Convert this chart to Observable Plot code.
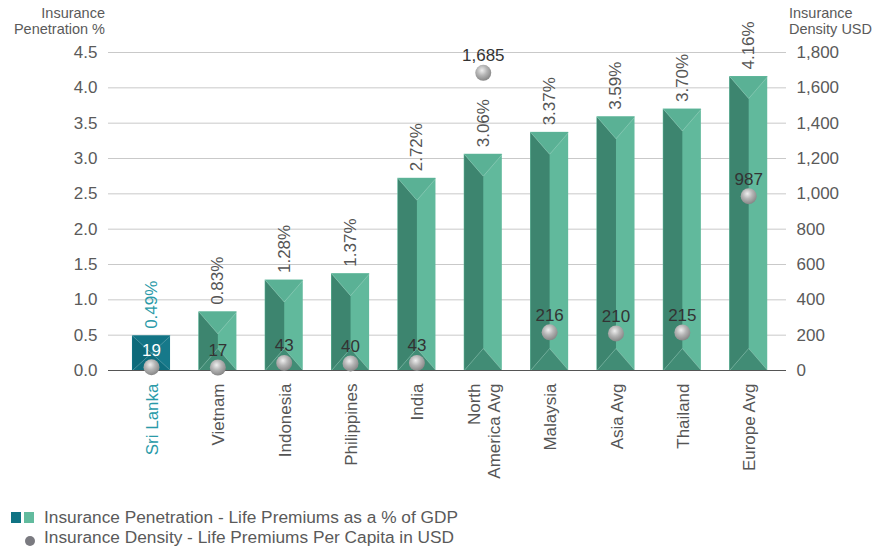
<!DOCTYPE html>
<html><head><meta charset="utf-8">
<script src="https://cdn.jsdelivr.net/npm/d3@7"></script>
<script src="https://cdn.jsdelivr.net/npm/@observablehq/plot@0.6"></script>
<style>
body{margin:0;background:#fff;font-family:"Liberation Sans",Arial,sans-serif;color:#555;}
#wrap{position:relative;width:883px;height:548px;overflow:hidden;}
.ttl{position:absolute;font-size:14.5px;line-height:16px;color:#5a5a5a;white-space:nowrap;}
.leg{position:absolute;left:0;font-size:17.3px;line-height:19px;color:#5a5a5a;white-space:nowrap;}
.sw{position:absolute;width:10px;height:11px;}
</style></head><body>
<svg width="0" height="0" style="position:absolute"><defs>
<radialGradient id="ball" cx="0.42" cy="0.35" r="0.7">
<stop offset="0" stop-color="#efefef"/><stop offset="0.45" stop-color="#b5b5b5"/><stop offset="1" stop-color="#808080"/>
</radialGradient></defs></svg>
<div id="wrap">
  <div class="ttl" style="left:0;top:5px;width:105px;text-align:right;">Insurance</div>
  <div class="ttl" style="left:0;top:21px;width:105px;text-align:right;">Penetration %</div>
  <div class="ttl" style="left:789px;top:5px;">Insurance</div>
  <div class="ttl" style="left:789px;top:21px;">Density USD</div>
  <div id="chart" style="position:absolute;left:0;top:0;"></div>
  <div class="sw" style="left:11px;top:512px;background:#0f7383;"></div>
  <div class="sw" style="left:24px;top:512px;background:#62bb9e;"></div>
  <div class="leg" style="left:44px;top:508px;">Insurance Penetration - Life Premiums as a % of GDP</div>
  <div style="position:absolute;left:25px;top:536px;width:10px;height:10px;border-radius:50%;background:#7a7a80;"></div>
  <div class="leg" style="left:44px;top:528px;">Insurance Density - Life Premiums Per Capita in USD</div>
</div>
<script>
const countries = ["Sri Lanka","Vietnam","Indonesia","Philippines","India","North\nAmerica Avg","Malaysia","Asia Avg","Thailand","Europe Avg"];
const penetration = [0.49,0.83,1.28,1.37,2.72,3.06,3.37,3.59,3.70,4.16];
const density = [19,17,43,40,43,1685,216,210,215,987];
const leftTicks = [0,0.5,1.0,1.5,2.0,2.5,3.0,3.5,4.0,4.5];
const rightTicks = [0,200,400,600,800,1000,1200,1400,1600,1800];
const highlight = "Sri Lanka";

const ratio = 1800/4.5;             // right axis units per left axis unit
const hw = 0.287;                  // half bar width (band units)
const bevelPx = 22;
const pxPerUnit = 318/4.5;
const bev = bevelPx/pxPerUnit;

const SL = {left:"#0d6a7a", right:"#16798a", top:"#127485", bottom:"#0f6e7e", label:"#2a9aa8"};
const GR = {left:"#3d856f", right:"#61b99c", top:"#5ab195", bottom:"#418c75", label:"#555"};

const bars = countries.map((c,i)=>({i, name:c, v:penetration[i], d:density[i], hl:c===highlight}));
const polys = [];
const lines = [];
bars.forEach(b=>{
  const x0=b.i-hw, x1=b.i+hw, xc=b.i, v=b.v, e=Math.min(bev, v/2);
  const C = b.hl ? SL : GR;
  polys.push({id:b.i+"L", fill:C.left, pts:[[x0,v],[xc,v-e],[xc,e],[x0,0]]});
  polys.push({id:b.i+"T", fill:C.top, pts:[[x0,v],[x1,v],[xc,v-e]]});
  polys.push({id:b.i+"B", fill:C.bottom, pts:[[x0,0],[x1,0],[xc,e]]});
  lines.push({id:b.i+"t", pts:[[x0,v],[xc,v-e],[x1,v]]});
  lines.push({id:b.i+"b", pts:[[x0,0],[xc,e],[x1,0]]});
});
const polyPts = polys.flatMap(p=>[...p.pts,p.pts[0]].map(([x,y])=>({id:p.id,fill:p.fill,x,y})));
const linePts = lines.flatMap(p=>p.pts.map(([x,y])=>({id:p.id,x,y})));

const fmt = d3.format(",");
const plot = Plot.plot({
  width:883, height:500,
  marginTop:52, marginBottom:130, marginLeft:108, marginRight:97,
  style:{fontFamily:'"Liberation Sans",Arial,sans-serif', fontSize:"17px", color:"#555", background:"transparent"},
  x:{domain:[-0.648,9.57], axis:null},
  y:{domain:[0,4.5], axis:null},
  marks:[
    Plot.ruleY(leftTicks.slice(1), {stroke:"#c9c9c9", strokeWidth:1}),
    Plot.axisY(leftTicks, {anchor:"left", tickSize:0, tickPadding:11, tickFormat:d=>d.toFixed(1), label:null, fill:"#5a5a5a"}),
    Plot.axisY(rightTicks.map(d=>d/ratio), {anchor:"right", tickSize:0, tickPadding:10, tickFormat:d=>fmt(Math.round(d*ratio)), label:null, fill:"#5a5a5a"}),
    Plot.rect(bars, {x1:d=>d.i-hw, x2:d=>d.i+hw, y1:0, y2:"v", fill:d=>(d.hl?SL:GR).right}),
    Plot.line(polyPts, {x:"x", y:"y", z:"id", fill:"fill", stroke:null, curve:"linear"}),
    Plot.line(linePts, {x:"x", y:"y", z:"id", stroke:"rgba(255,255,255,0.28)", strokeWidth:0.8}),
    Plot.ruleY([0], {stroke:"#555", strokeWidth:1.2}),
    Plot.text(bars, {x:"i", y:"v", text:d=>d.v.toFixed(2)+"%", rotate:-90, textAnchor:"start", dy:-7, fill:d=>(d.hl?SL:GR).label}),
    Plot.dot(bars, {x:"i", y:d=>d.d/ratio, r:8, fill:"url(#ball)", stroke:null}),
    Plot.text(bars, {x:"i", y:d=>d.d/ratio, text:d=>fmt(d.d), dy:-17, fill:d=>d.hl?"#ffffff":"#333333"}),
    Plot.text(bars, {x:"i", y:0, text:"name", rotate:-90, textAnchor:"end", dy:13, lineHeight:1.2, fill:d=>d.hl?SL.label:"#555555"})
  ]
});
document.getElementById("chart").appendChild(plot);
</script>
</body></html>
